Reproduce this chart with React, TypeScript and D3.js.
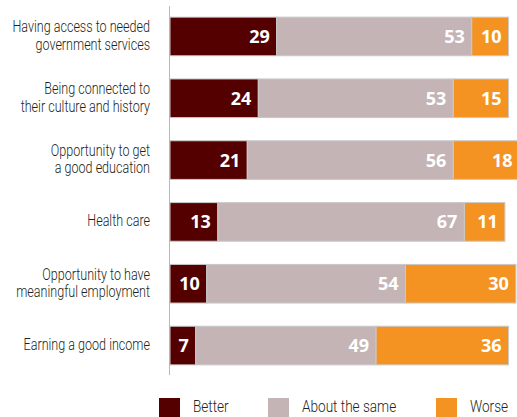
import React from "react";
import * as d3 from "d3";

const categories: string[][] = [
  ["Having access to needed", "government services"],
  ["Being connected to", "their culture and history"],
  ["Opportunity to get", "a good education"],
  ["Health care"],
  ["Opportunity to have", "meaningful employment"],
  ["Earning a good income"],
];
const better = [29, 24, 21, 13, 10, 7];
const same = [53, 53, 56, 67, 54, 49];
const worse = [10, 15, 18, 11, 30, 36];
const seriesNames = ["Better", "About the same", "Worse"];
const colors = ["#540000", "#c4b4b6", "#f49321"];

const W = 517;
const H = 417;
const labelFont = "Roboto, sans-serif";
const numFont = "'Open Sans', sans-serif";

export default function App() {
  const x = d3.scaleLinear().domain([0, 100]).range([170, 538]);
  const y = d3
    .scaleBand<number>()
    .domain(d3.range(categories.length))
    .range([6, 376])
    .paddingInner(0.375)
    .paddingOuter(0.18);
  const stackData = categories.map((_, i) => ({ i, b: better[i], s: same[i], w: worse[i] }));
  const stack = d3.stack<any>().keys(["b", "s", "w"])(stackData);

  return (
    <svg width={W} height={H} style={{ position: "absolute", left: 0, top: 0 }}>
      {stack.map((layer, k) =>
        layer.map((d, i) => {
          const x0 = x(d[0]);
          const x1 = x(d[1]);
          const yy = y(i)!;
          const bh = y.bandwidth();
          return (
            <g key={`${k}-${i}`}>
              <rect x={x0} y={yy} width={x1 - x0} height={bh} fill={colors[k]} stroke="#c9c9c9" strokeWidth={1} />
              <text
                x={x1 - 7}
                y={yy + bh / 2}
                dy="0.36em"
                textAnchor="end"
                fill="#fff"
                fontFamily={numFont}
                fontWeight={700}
                fontSize={18}
              >
                {d[1] - d[0]}
              </text>
            </g>
          );
        })
      )}
      <line x1={169.5} x2={169.5} y1={6} y2={375} stroke="#b8b8b8" strokeWidth={1} />
      {categories.map((lines, i) => {
        const cy = y(i)! + y.bandwidth() / 2 - 1;
        const lh = 17.5;
        const start = cy - ((lines.length - 1) * lh) / 2;
        return (
          <g key={i} transform="translate(150,0) scale(0.785,1)">
            <text textAnchor="end" fill="#231f20" fontFamily={labelFont} fontWeight={300} fontSize={16}>
              {lines.map((l, j) => (
                <tspan key={j} x={0} y={start + j * lh} dy="0.35em">
                  {l}
                </tspan>
              ))}
            </text>
          </g>
        );
      })}
      {seriesNames.map((name, k) => {
        const xs = [159, 268, 436];
        return (
          <g key={name}>
            <rect x={xs[k]} y={398} width={21} height={20} fill={colors[k]} />
            <g transform={`translate(${xs[k] + 34},0) scale(0.85,1)`}>
              <text x={0} y={406} dy="0.36em" fill="#231f20" fontFamily={labelFont} fontWeight={300} fontSize={16}>
                {name}
              </text>
            </g>
          </g>
        );
      })}
    </svg>
  );
}
